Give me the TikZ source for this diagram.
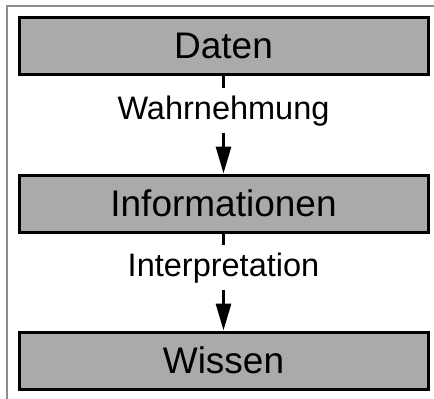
\documentclass[tikz,border=0pt]{standalone}
\usepackage{fontspec}
\setmainfont{Liberation Sans}
\usetikzlibrary{arrows.meta}
\definecolor{boxgray}{HTML}{AAAAAA}
\definecolor{framegray}{HTML}{8C8C8C}
\tikzset{
  stage/.style={draw=black, line width=3pt, fill=boxgray,
    minimum width=409pt, minimum height=57pt, inner sep=0pt,
    font=\fontsize{37}{40}\selectfont},
  lbl/.style={fill=white, inner xsep=2pt, inner ysep=8.3pt,
    text height=23.4pt, text depth=5pt,
    font=\fontsize{32.5}{36}\selectfont},
  link/.style={line width=3pt},
  arrowlink/.style={line width=3pt, -{Triangle[length=27pt,width=15pt]}},
}
\begin{document}
\begin{tikzpicture}[x=1pt,y=-1pt]
\useasboundingbox (0,0) rectangle (434,399);
% outer frame (top and left edges only)
\draw[framegray, line width=1.5pt] (7,399) -- (7,6) -- (434,6);

% stages
\node[stage] (daten) at (223.5,46) {Daten};
\node[stage] (info)  at (223.5,203.5) {Informationen};
\node[stage] (wissen) at (223.5,360.5) {Wissen};

% transition labels
\node[lbl] (wahr)   at (223.5,110.5) {Wahrnehmung};
\node[lbl] (interp) at (223.5,267.5) {Interpretation};

% connectors
\draw[link] (daten.south) -- (wahr.north);
\draw[arrowlink] (wahr.south) -- (info.north);
\draw[link] (info.south) -- (interp.north);
\draw[arrowlink] (interp.south) -- (wissen.north);
\end{tikzpicture}
\end{document}
